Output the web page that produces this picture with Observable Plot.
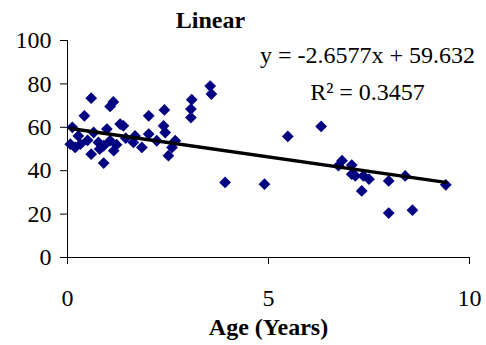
<!DOCTYPE html>
<html>
<head>
<meta charset="utf-8">
<script src="https://cdn.jsdelivr.net/npm/d3@7"></script>
<script src="https://cdn.jsdelivr.net/npm/@observablehq/plot@0.6"></script>
<style>
  html, body { margin: 0; padding: 0; background: #fff; }
  #chart { width: 486px; height: 345px; }
  #chart svg text { font-family: "Liberation Serif", "Times New Roman", serif; }
</style>
</head>
<body>
<div id="chart"></div>
<script>
const ages = [0.07,0.12,0.19,0.27,0.32,0.42,0.5,0.59,0.59,0.65,0.77,0.8,0.9,0.9,0.98,1.06,1.14,1.06,1.15,1.22,1.31,1.39,1.45,1.64,1.68,1.85,2.02,2.02,2.22,2.39,2.41,2.43,2.51,2.6,2.68,3.07,3.07,3.09,3.55,3.58,3.92,4.9,5.48,6.31,6.74,6.83,7.07,7.07,7.16,7.36,7.5,7.32,7.99,8.4,9.41,7.99,8.58];
const scores = [52.2,60,50.7,56,52.2,65.3,54,73.4,47.6,57.6,53,50,43.5,51.5,59.2,69.6,71.7,53.8,49.2,52,61.5,60.7,55,53,56,50.7,56.9,65.3,53.8,60.7,68,57.6,46.9,50.7,53.8,64.5,68.4,72.7,79,75.3,34.6,33.8,55.8,60.4,42.3,44.6,42.6,38.4,37.6,37.6,36.1,30.7,35.3,37.6,33.5,20.5,21.8];
const slope = -2.6577;
const intercept = 59.632;
const rSquared = 0.3457;
const xTicks = [0, 5, 10];
const yTicks = [0, 20, 40, 60, 80, 100];
const titleText = "Linear";
const xLabel = "Age (Years)";

const points = ages.map((a, i) => ({age: a, score: scores[i]}));
const ext = d3.extent(ages);
const trend = ext.map(a => ({age: a, score: slope * a + intercept}));
const eqText = `y = ${slope}x + ${intercept}`;
const r2Text = `R\u00B2 = ${rSquared}`;

const font = "Liberation Serif";

const chart = Plot.plot({
  width: 486,
  height: 345,
  marginLeft: 67,
  marginRight: 17,
  marginTop: 40,
  marginBottom: 88,
  style: {fontFamily: font, fontSize: "24px", color: "#000", background: "#fff"},
  x: {domain: [0, 10]},
  y: {domain: [0, 100]},
  marks: [
    Plot.axisY({ticks: yTicks, tickSize: 7, tickPadding: 9, fontSize: 24, fontFamily: font, label: null, stroke: "#000", strokeOpacity: 1}),
    Plot.axisX({ticks: xTicks, tickSize: 7, tickPadding: 24, fontSize: 24, fontFamily: font, label: null, stroke: "#000", strokeOpacity: 1}),
    Plot.ruleY([0], {stroke: "#000", strokeWidth: 1}),
    Plot.ruleX([0], {stroke: "#000", strokeWidth: 1}),
    Plot.dot(points, {x: "age", y: "score", symbol: "diamond2", r: 5.3, fill: "#000080", stroke: "none"}),
    Plot.line(trend, {x: "age", y: "score", stroke: "#000", strokeWidth: 3.5}),
    Plot.text([titleText], {frameAnchor: "top-left", dx: 143, dy: -20, textAnchor: "middle", lineAnchor: "middle", fontWeight: "bold", fontSize: 24, fontFamily: font, fill: "#000"}),
    Plot.text([eqText], {frameAnchor: "top-left", dx: 300, dy: 15, textAnchor: "middle", lineAnchor: "middle", fontSize: 24, fontFamily: font, fill: "#000"}),
    Plot.text([r2Text], {frameAnchor: "top-left", dx: 300, dy: 52, textAnchor: "middle", lineAnchor: "middle", fontSize: 24, fontFamily: font, fill: "#000"}),
    Plot.text([xLabel], {frameAnchor: "bottom", dy: 70, textAnchor: "middle", lineAnchor: "middle", fontWeight: "bold", fontSize: 24, fontFamily: font, fill: "#000"})
  ]
});
document.getElementById("chart").appendChild(chart);
</script>
</body>
</html>
